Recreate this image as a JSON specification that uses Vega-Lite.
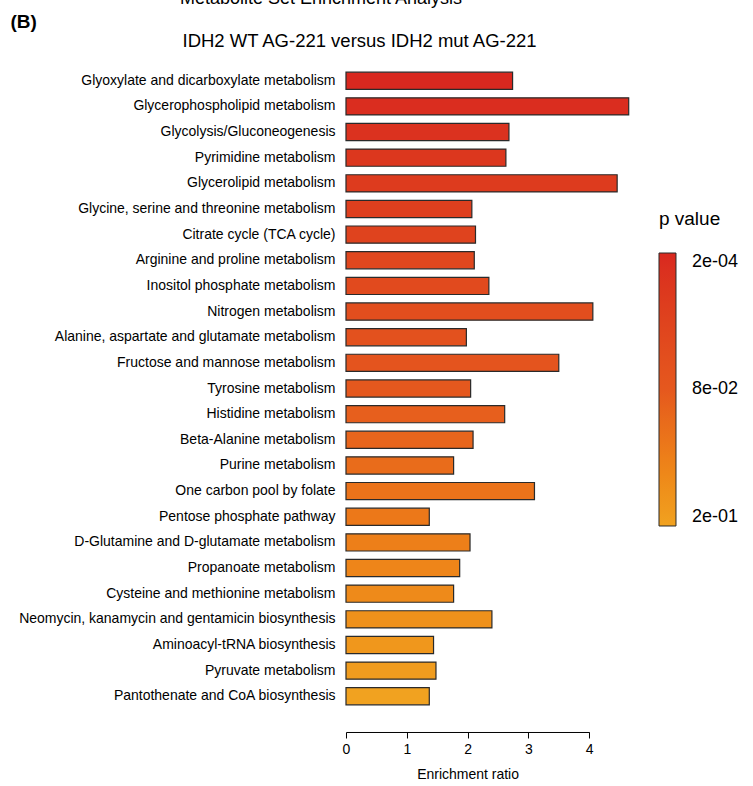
{
  "$schema": "https://vega.github.io/schema/vega-lite/v6.json",
  "width": 243.2,
  "height": 643,
  "padding": {"left": 10, "top": -10, "right": 5, "bottom": 5},
  "background": "white",
  "config": {
    "font": "Liberation Sans",
    "view": {"stroke": null},
    "axis": {"grid": false}
  },
  "title": {
    "text": "Metabolite Set Enrichment Analysis",
    "anchor": "start",
    "frame": "group",
    "dx": -166,
    "fontSize": 18,
    "fontWeight": "normal",
    "color": "#000000",
    "offset": 4
  },
  "data": {
    "values": [
      {"pathway": "Glyoxylate and dicarboxylate metabolism", "ratio": 2.74, "p": 0.0002},
      {"pathway": "Glycerophospholipid metabolism", "ratio": 4.65, "p": 0.0069},
      {"pathway": "Glycolysis/Gluconeogenesis", "ratio": 2.68, "p": 0.0135},
      {"pathway": "Pyrimidine metabolism", "ratio": 2.63, "p": 0.020},
      {"pathway": "Glycerolipid metabolism", "ratio": 4.46, "p": 0.027},
      {"pathway": "Glycine, serine and threonine metabolism", "ratio": 2.07, "p": 0.033},
      {"pathway": "Citrate cycle (TCA cycle)", "ratio": 2.13, "p": 0.040},
      {"pathway": "Arginine and proline metabolism", "ratio": 2.11, "p": 0.047},
      {"pathway": "Inositol phosphate metabolism", "ratio": 2.35, "p": 0.053},
      {"pathway": "Nitrogen metabolism", "ratio": 4.06, "p": 0.060},
      {"pathway": "Alanine, aspartate and glutamate metabolism", "ratio": 1.98, "p": 0.067},
      {"pathway": "Fructose and mannose metabolism", "ratio": 3.50, "p": 0.073},
      {"pathway": "Tyrosine metabolism", "ratio": 2.05, "p": 0.080},
      {"pathway": "Histidine metabolism", "ratio": 2.61, "p": 0.087},
      {"pathway": "Beta-Alanine metabolism", "ratio": 2.09, "p": 0.093},
      {"pathway": "Purine metabolism", "ratio": 1.77, "p": 0.100},
      {"pathway": "One carbon pool by folate", "ratio": 3.10, "p": 0.107},
      {"pathway": "Pentose phosphate pathway", "ratio": 1.37, "p": 0.113},
      {"pathway": "D-Glutamine and D-glutamate metabolism", "ratio": 2.04, "p": 0.120},
      {"pathway": "Propanoate metabolism", "ratio": 1.87, "p": 0.127},
      {"pathway": "Cysteine and methionine metabolism", "ratio": 1.77, "p": 0.133},
      {"pathway": "Neomycin, kanamycin and gentamicin biosynthesis", "ratio": 2.40, "p": 0.140},
      {"pathway": "Aminoacyl-tRNA biosynthesis", "ratio": 1.44, "p": 0.147},
      {"pathway": "Pyruvate metabolism", "ratio": 1.48, "p": 0.153},
      {"pathway": "Pantothenate and CoA biosynthesis", "ratio": 1.37, "p": 0.160}
    ]
  },
  "encoding": {
    "y": {
      "field": "pathway",
      "type": "nominal",
      "sort": null,
      "scale": {"paddingInner": 0.33, "paddingOuter": 0.2},
      "axis": {
        "title": "(B)",
        "titleAngle": 0,
        "titleX": -336,
        "titleY": -40,
        "titleAlign": "left",
        "titleBaseline": "alphabetic",
        "titleFontSize": 19,
        "titleFontWeight": "bold",
        "titleColor": "#000000",
        "ticks": false,
        "domain": false,
        "labelFontSize": 14,
        "labelColor": "#000000",
        "labelPadding": 11,
        "labelLimit": 400
      }
    }
  },
  "layer": [
    {
      "mark": {"type": "bar"},
      "encoding": {
        "x": {
          "field": "ratio",
          "type": "quantitative",
          "scale": {"domain": [0, 4], "nice": false},
          "axis": {
            "orient": "bottom",
            "offset": 22,
            "values": [0, 1, 2, 3, 4],
            "format": "d",
            "labelFlush": false,
            "domainColor": "#000000",
            "tickColor": "#000000",
            "tickSize": 6,
            "labelFontSize": 14,
            "labelColor": "#000000",
            "labelPadding": 5,
            "title": "Enrichment ratio",
            "titleFontSize": 14,
            "titleFontWeight": "normal",
            "titleColor": "#000000",
            "titlePadding": 11
          }
        },
        "color": {
          "field": "p",
          "type": "quantitative",
          "scale": {"domain": [0.16, 0.08, 0.0002], "range": ["#f1a220", "#e5581e", "#d9281f"]},
          "legend": {
            "title": "p value",
            "orient": "none",
            "legendX": 313,
            "legendY": 143,
            "direction": "vertical",
            "gradientLength": 273,
            "gradientThickness": 17,
            "gradientStrokeColor": "#2a2a2a",
            "gradientStrokeWidth": 1,
            "values": [0.0002, 0.08, 0.16],
            "labelExpr": "replace(format(datum.value, '.0e'), 'e-', 'e-0')",
            "labelFontSize": 18,
            "labelOffset": 16,
            "labelColor": "#000000",
            "titleFontSize": 19,
            "titleFontWeight": "normal",
            "titleColor": "#000000",
            "titlePadding": 24,
            "padding": 0
          }
        }
      }
    },
    {
      "mark": {"type": "bar", "filled": false, "stroke": "#2a2a2a", "strokeWidth": 1.2},
      "encoding": {
        "x": {
          "field": "ratio",
          "type": "quantitative",
          "axis": {
            "orient": "top",
            "domain": false,
            "ticks": false,
            "labels": false,
            "title": "IDH2 WT AG-221  versus IDH2 mut AG-221",
            "titleX": -164,
            "titleY": -21,
            "titleAlign": "left",
            "titleBaseline": "alphabetic",
            "titleAngle": 0,
            "titleFontSize": 18.5,
            "titleFontWeight": "normal",
            "titleColor": "#000000"
          }
        }
      }
    }
  ],
  "resolve": {"axis": {"x": "independent"}}
}
